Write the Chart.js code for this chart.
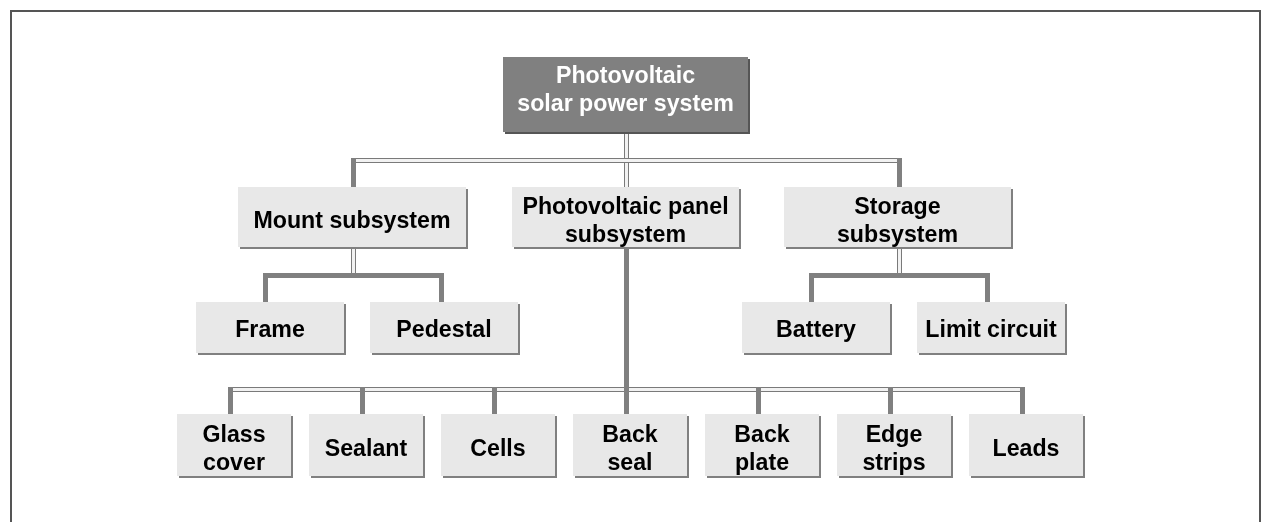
<!DOCTYPE html>
<html>
<head>
<meta charset="utf-8">
<script src="https://cdn.jsdelivr.net/npm/chart.js@4/dist/chart.umd.min.js"></script>
<style>
  html, body { margin: 0; padding: 0; background: #ffffff; }
  #wrap { width: 1262px; height: 522px; }
</style>
</head>
<body>
<div id="wrap"><canvas id="c" width="1262" height="522"></canvas></div>
<script>
// ---- Tree data ----
const nodeLabels = [
  'Photovoltaic\nsolar power system',
  'Mount subsystem',
  'Photovoltaic panel\nsubsystem',
  'Storage\nsubsystem',
  'Frame',
  'Pedestal',
  'Battery',
  'Limit circuit',
  'Glass\ncover',
  'Sealant',
  'Cells',
  'Back\nseal',
  'Back\nplate',
  'Edge\nstrips',
  'Leads'
];
const nodeParents = [-1, 0, 0, 0, 1, 1, 3, 3, 2, 2, 2, 2, 2, 2, 2];
const nodeLevels  = [0, 1, 1, 1, 2, 2, 2, 2, 3, 3, 3, 3, 3, 3, 3];

// ---- Layout (drawing coordinates in axis units, kept apart from the data) ----
const layout = {
  rowTop:    [57, 187, 302, 414],
  rowHeight: [75, 60, 51, 62],
  boxLeft:  [503, 238, 512, 784, 196, 370, 742, 917, 177, 309, 441, 573, 705, 837, 969],
  boxWidth: [245, 228, 227, 227, 148, 148, 148, 148, 114, 114, 114, 114, 114, 114, 114],
  anchorX:  [626.5, 353.5, 626.5, 899.5, 265.5, 441.5, 811.5, 987.5,
             230.5, 362.5, 494.5, 626.5, 758.5, 890.5, 1022.5],
  textDy:   [-8.5, 0, 0, 0, -1.5, -1.5, -1.5, -1.5, 0, 0, 0, 0, 0, 0, 0],
  groups: {
    0: { busY: 160.5, stem: 'double', bus: 'double' },
    1: { busY: 275.5, stem: 'double', bus: 'solid' },
    3: { busY: 275.5, stem: 'double', bus: 'solid' },
    2: { busY: 389.5, stem: 'solid',  bus: 'double' }
  }
};

const styles = {
  rootFill: '#808080', rootShadow: '#555555', rootText: '#ffffff',
  boxFill: '#e8e8e8', boxShadow: '#808080', boxText: '#000000',
  lineDark: '#7a7a7a', lineLight: '#f2f2f2', solid: '#808080',
  frame: '#555555',
  font: 'bold 23.2px "Liberation Sans", Arial, Helvetica, sans-serif',
  lineGap: 28
};

const points = nodeLabels.map((_, i) => ({
  x: layout.boxLeft[i] + layout.boxWidth[i] / 2,
  y: layout.rowTop[nodeLevels[i]] + layout.rowHeight[nodeLevels[i]] / 2
}));

const treePlugin = {
  id: 'tree',
  afterDatasetsDraw(chart) {
    const ctx = chart.ctx;
    const xs = chart.scales.x, ys = chart.scales.y;
    const X = v => xs.getPixelForValue(v);
    const Y = v => ys.getPixelForValue(v);
    const T = 2.5; // half line thickness

    function vLine(x, y1, y2, kind) {
      const px = X(x), p1 = Y(y1), p2 = Y(y2);
      ctx.fillStyle = kind === 'double' ? styles.lineDark : styles.solid;
      ctx.fillRect(px - T, p1, 2 * T, p2 - p1);
      if (kind === 'double') {
        ctx.fillStyle = styles.lineLight;
        ctx.fillRect(px - 1.5, p1, 3, p2 - p1);
      }
    }
    function hLine(x1, x2, y, kind) {
      const p1 = X(x1), p2 = X(x2), py = Y(y);
      ctx.fillStyle = kind === 'double' ? styles.lineDark : styles.solid;
      ctx.fillRect(p1, py - T, p2 - p1, 2 * T);
      if (kind === 'double') {
        ctx.fillStyle = styles.lineLight;
        ctx.fillRect(p1, py - 1.5, p2 - p1, 3);
      }
    }

    ctx.save();
    // outer frame
    ctx.fillStyle = styles.frame;
    ctx.fillRect(X(10), Y(10), X(1261) - X(10), 2);
    ctx.fillRect(X(10), Y(10), 2, Y(522) - Y(10));
    ctx.fillRect(X(1259), Y(10), 2, Y(522) - Y(10));

    // connectors
    Object.keys(layout.groups).forEach(k => {
      const p = +k;
      const g = layout.groups[k];
      const kids = nodeParents.map((par, i) => par === p ? i : -1).filter(i => i >= 0);
      const pl = nodeLevels[p];
      const pBottom = layout.rowTop[pl] + layout.rowHeight[pl] + 2;
      const ax = layout.anchorX[p];
      // stem
      vLine(ax, pBottom, g.stem === 'solid' ? g.busY + T : g.busY - T, g.stem);
      // bus
      const xsK = kids.map(i => layout.anchorX[i]).concat([ax]);
      const minX = Math.min(...xsK) - T, maxX = Math.max(...xsK) + T;
      hLine(minX, maxX, g.busY, g.bus);
      // drops
      kids.forEach(i => {
        const cl = nodeLevels[i];
        const top = layout.rowTop[cl];
        const cx = layout.anchorX[i];
        if (cx === ax) {
          vLine(cx, g.stem === 'double' ? g.busY + T : g.busY - T, top, g.stem);
        } else {
          vLine(cx, g.busY - T, top, 'solid');
        }
      });
    });

    // boxes
    nodeLabels.forEach((label, i) => {
      const lv = nodeLevels[i];
      const x0 = layout.boxLeft[i], w = layout.boxWidth[i];
      const y0 = layout.rowTop[lv], h = layout.rowHeight[lv];
      const isRoot = nodeParents[i] === -1;
      const px = X(x0), py = Y(y0), pw = X(x0 + w) - px, ph = Y(y0 + h) - py;
      ctx.fillStyle = isRoot ? styles.rootShadow : styles.boxShadow;
      ctx.fillRect(px + 2, py + 2, pw, ph);
      ctx.fillStyle = isRoot ? styles.rootFill : styles.boxFill;
      ctx.fillRect(px, py, pw, ph);

      const lines = label.split('\n');
      ctx.fillStyle = isRoot ? styles.rootText : styles.boxText;
      ctx.font = styles.font;
      ctx.textAlign = 'center';
      ctx.textBaseline = 'alphabetic';
      const cx = X(x0 + w / 2);
      const cy = Y(y0 + h / 2) + 10.5 + layout.textDy[i];
      lines.forEach((ln, j) => {
        ctx.fillText(ln, cx, cy + (j - (lines.length - 1) / 2) * styles.lineGap);
      });
    });
    ctx.restore();
  }
};

new Chart(document.getElementById('c'), {
  type: 'scatter',
  data: {
    datasets: [{
      label: 'Nodes',
      data: points,
      pointRadius: 0,
      pointHoverRadius: 0
    }]
  },
  options: {
    responsive: false,
    animation: false,
    layout: { padding: 0 },
    plugins: { legend: { display: false }, tooltip: { enabled: false }, title: { display: false } },
    scales: {
      x: { type: 'linear', min: 0, max: 1262, display: false },
      y: { type: 'linear', min: 0, max: 522, reverse: true, display: false }
    }
  },
  plugins: [treePlugin]
});
</script>
</body>
</html>
